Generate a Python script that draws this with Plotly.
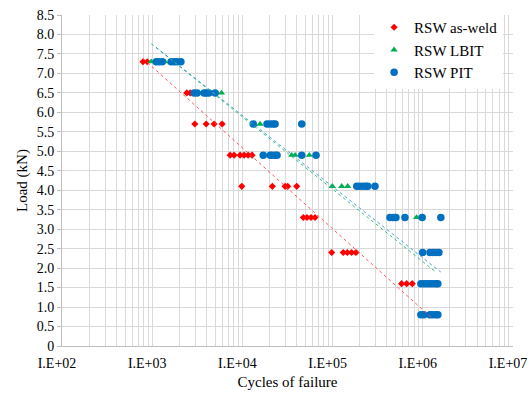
import numpy as np
import plotly.graph_objects as go

# ---- data ----
aw_cycles = [790, 880, 2420, 2640, 2970, 3965, 4860, 5960,
             7310, 8090, 9430, 10450, 11570, 12800,
             9840, 21480, 29700, 31800, 40000,
             47400, 52000, 57650, 63800,
             97700, 131300, 145500, 162600, 181500,
             582000, 662000, 764000, 1200000]
aw_load = [7.3, 7.3, 6.5, 6.5, 5.7, 5.7, 5.7, 5.7,
           4.9, 4.9, 4.9, 4.9, 4.9, 4.9,
           4.1, 4.1, 4.1, 4.1, 4.1,
           3.3, 3.3, 3.3, 3.3,
           2.4, 2.4, 2.4, 2.4, 2.4,
           1.6, 1.6, 1.6, 0.8]

lbit_cycles = [975, 1383, 3311, 5850, 13500, 15700,
               35200, 38400, 55200, 99300, 126200, 147000,
               853000, 1054000]
lbit_load = [7.3, 7.3, 6.5, 6.5, 5.7, 5.7,
             4.9, 4.9, 4.9, 4.1, 4.1, 4.1,
             3.3, 0.8]

pit_cycles = [1107, 1197, 1291, 1622, 1753, 1892, 2080,
              2917, 3148, 3766, 3966, 4250, 4990,
              13180, 18750, 20270, 21880, 23030, 45500,
              17020, 20340, 21330, 23030, 24220, 45500, 65500,
              185400, 200000, 216300, 233300, 245500, 295100,
              432500, 466900, 503500, 633500, 984000, 1585000,
              996000, 1200000, 1295000, 1397000, 1509000,
              952000, 1028000, 1109000, 1199000, 1295000, 1397000, 1469000,
              952000, 1028000, 1199000, 1295000, 1397000, 1469000]
pit_load = [7.3] * 7 + [6.5] * 6 + [5.7] * 6 + [4.9] * 7 + [4.1] * 6 + \
           [3.3] * 6 + [2.4] * 5 + [1.6] * 7 + [0.8] * 6

# logarithmic trendlines: load = slope * log10(cycles) + intercept
trend_slope = [-2.08, -1.859, -1.827]
trend_intercept = [13.41, 13.32, 13.226]
trend_start = [790, 975, 1107]
trend_end = [1250000, 1360000, 1585000]

series_names = ["RSW as-weld", "RSW LBIT", "RSW PIT"]
y_ticks = [i * 0.5 for i in range(18)]
y_ticktext = ["0"] + [f"{v:.1f}" for v in y_ticks[1:]]
x_ticks = [1e2, 1e3, 1e4, 1e5, 1e6, 1e7]
x_ticktext = ["I.E+02", "I.E+03", "I.E+04", "I.E+05", "I.E+06", "I.E+07"]

RED, GREEN, BLUE = "#FF0000", "#00B050", "#0070C0"
FONT = "'Liberation Serif', 'Times New Roman', Times, serif"

fig = go.Figure()
fig.add_trace(go.Scatter(x=aw_cycles, y=aw_load, mode="markers", name=series_names[0],
                         marker=dict(symbol="diamond", size=5.5, color=RED)))
fig.add_trace(go.Scatter(x=lbit_cycles, y=lbit_load, mode="markers", name=series_names[1],
                         marker=dict(symbol="triangle-up", size=6.5, color=GREEN)))
fig.add_trace(go.Scatter(x=pit_cycles, y=pit_load, mode="markers", name=series_names[2],
                         marker=dict(symbol="circle", size=7.5, color=BLUE)))

trend_colors = ["rgba(255,70,70,0.9)", "rgba(40,185,100,0.9)", "rgba(60,150,215,0.9)"]
for i in range(3):
    xs = np.log10(np.array([trend_start[i], trend_end[i]], dtype=float))
    fig.add_trace(go.Scatter(x=10 ** xs, y=trend_slope[i] * xs + trend_intercept[i],
                             mode="lines", showlegend=False, hoverinfo="skip",
                             line=dict(color=trend_colors[i], width=1, dash="dot")))

GRID = "#D9D9D9"
fig.update_layout(
    width=531, height=397,
    margin=dict(l=62, r=18, t=14, b=51),
    paper_bgcolor="white", plot_bgcolor="white",
    font=dict(family=FONT, size=14, color="#000000"),
    showlegend=True,
    legend=dict(x=0.692, y=1.009, xanchor="left", yanchor="top",
                bgcolor="white", borderwidth=0,
                font=dict(family=FONT, size=15, color="#000000"),
                tracegroupgap=0, itemsizing="trace"),
    xaxis=dict(type="log", range=[2, 7], tickvals=x_ticks, ticktext=x_ticktext,
               automargin=False, ticklabeloverflow="allow",
               ticklabelshift=-5, ticklabelstandoff=4,
               showgrid=True, gridcolor=GRID, gridwidth=1,
               minor=dict(dtick="D1", showgrid=True, gridcolor=GRID, gridwidth=1, ticks=""),
               showline=True, linecolor="#BFBFBF", linewidth=1, ticks="",
               zeroline=False,
               title=dict(text="Cycles of failure", font=dict(family=FONT, size=15), standoff=6),
               tickfont=dict(family=FONT, size=14)),
    yaxis=dict(range=[0, 8.5], tickvals=y_ticks, ticktext=y_ticktext,
               automargin=False, ticklabeloverflow="allow",
               showgrid=True, gridcolor=GRID, gridwidth=1,
               showline=True, linecolor="#BFBFBF", linewidth=1,
               ticks="outside", ticklen=4, tickcolor="#BFBFBF",
               zeroline=False,
               title=dict(text="Load (kN)", font=dict(family=FONT, size=15), standoff=5),
               tickfont=dict(family=FONT, size=14)),
)

# remove the default page margin so the 531x397 figure fills the window exactly
fig.write_html("out.html",
               config={"displayModeBar": False},
               post_script="document.body.style.margin='0px';document.body.style.overflow='hidden';")
